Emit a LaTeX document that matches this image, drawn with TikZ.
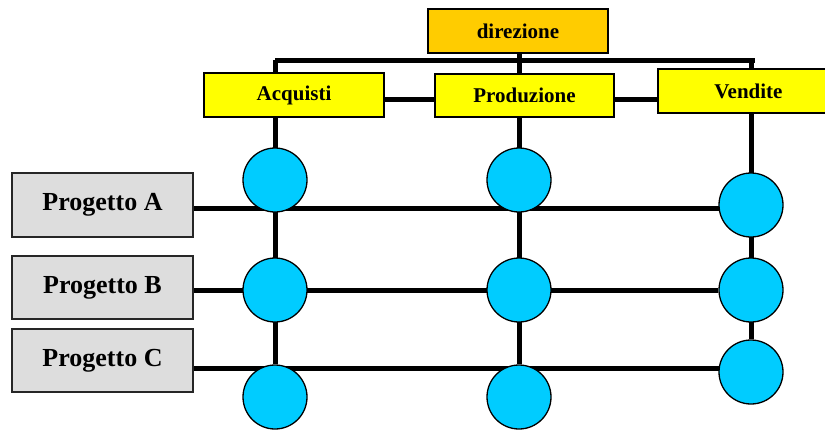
\documentclass[tikz,border=0pt]{standalone}
\usepackage{fontspec}
\setmainfont{Liberation Serif}
\usetikzlibrary{backgrounds}
\definecolor{dirorange}{HTML}{FFCC00}
\definecolor{boxyellow}{HTML}{FFFF00}
\definecolor{circblue}{HTML}{00CCFF}
\definecolor{projgrey}{HTML}{DDDDDD}
\begin{document}
\begin{tikzpicture}[x=1pt,y=-1pt,
  topbox/.style={draw=black,line width=1.5pt,rectangle,inner sep=0pt,minimum width=180pt,minimum height=44pt,font=\fontsize{21}{25}\selectfont\bfseries},
  projbox/.style={draw=black!85,line width=1.5pt,fill=projgrey,rectangle,inner sep=0pt,minimum width=181pt,minimum height=63pt,font=\fontsize{26}{30}\selectfont\bfseries},
  cell/.style={circle,draw=black,line width=1.3pt,fill=circblue,minimum size=64pt,inner sep=0pt},
  link/.style={line width=5pt,black}]
\useasboundingbox (0,0) rectangle (825,429);
% top boxes
\node[topbox,fill=dirorange] (dir) at (518,31) {direzione};
\node[topbox,fill=boxyellow] (acq) at (294,95) {Acquisti};
\node[topbox,fill=boxyellow,minimum width=179pt,minimum height=43pt] (prod) at (524.5,95.5) {Produzione};
\node[topbox,fill=boxyellow,minimum width=202pt] (vend) at (759,91) {\hspace*{-21pt}Vendite};
% project boxes
\node[projbox,minimum height=64pt] (pa) at (102.5,205) {\raisebox{2pt}{Progetto A}};
\node[projbox] (pb) at (102.5,287.5) {\raisebox{2pt}{Progetto B}};
\node[projbox] (pc) at (102.5,360.5) {\raisebox{2pt}{Progetto C}};
% circles
\node[cell] (a1) at (275,180) {};
\node[cell] (a2) at (275,290) {};
\node[cell] (a3) at (275,397) {};
\node[cell] (p1) at (519,180) {};
\node[cell] (p2) at (519,290) {};
\node[cell] (p3) at (519,397) {};
\node[cell] (v1) at (751,205) {};
\node[cell] (v2) at (751,290) {};
\node[cell] (v3) at (751,372) {};
\coordinate (bl) at (275,60);
\coordinate (br) at (755,60);
\coordinate (lc) at (751,368);
\begin{scope}[on background layer]
  % hierarchy
  \draw[link] (dir.south -| p1) -- (prod.north -| p1);
  \draw[link] (bl) -- (br);
  \draw[link] (bl) -- (acq.north -| bl);
  \draw[link] ([xshift=-4pt]br) -- (vend.north -| v1);
  \draw[link] ([yshift=-4pt]acq.east) -- ([yshift=-4pt]acq.east -| prod.west);
  \draw[link] ([yshift=-3.5pt]prod.east) -- ([yshift=-3.5pt]prod.east -| vend.west);
  % columns
  \draw[link] (acq.south -| a1) -- (a3);
  \draw[link] (prod.south -| p1) -- (p3);
  \draw[link] (vend.south -| v1) -- (v3);
  % project rows
  \draw[link] ([yshift=-3pt]pa.east) -- ([yshift=-3pt]v1.center);
  \draw[link] (pb.east |- v2) -- (v2);
  \draw[link] (pc.east |- lc) -- (lc);
\end{scope}
\end{tikzpicture}
\end{document}
